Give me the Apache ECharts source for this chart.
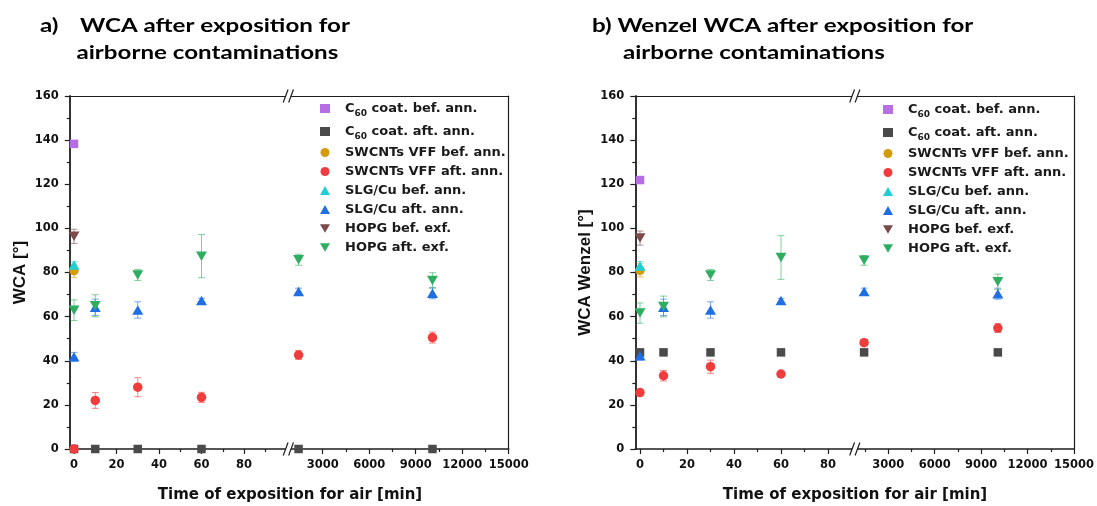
<!DOCTYPE html>
<html>
<head>
<meta charset="utf-8">
<script src="https://cdn.jsdelivr.net/npm/echarts@6/dist/echarts.min.js"></script>
<style>
  html, body { margin: 0; padding: 0; background: #fff; }
  #chart { width: 1097px; height: 506px; }
</style>
</head>
<body>
<div id="chart"></div>
<script>
// Exposure times to air, in minutes (up to one week)
const timesMin = [0, 10, 30, 60, 1440, 10080];

// Legend order is also drawing order
const seriesNames = [
  'C60 coat. bef. ann.', 'C60 coat. aft. ann.',
  'SWCNTs VFF bef. ann.', 'SWCNTs VFF aft. ann.',
  'SLG/Cu bef. ann.', 'SLG/Cu aft. ann.',
  'HOPG bef. exf.', 'HOPG aft. exf.'
];

// Tick labels of the broken time axis
const shortTicks = [0, 20, 40, 60, 80];
const shortMinorTicks = [10, 30, 50, 70, 90];
const longTicks = [3000, 6000, 9000, 12000, 15000];
const longMinorTicks = [1500, 4500, 7500, 10500, 13500];
const wcaTicks = [0, 20, 40, 60, 80, 100, 120, 140, 160];

// a) WCA [°] (null = not measured), with error bars
const wcaC60Bef      = [138.3, null, null, null, null, null];
const wcaC60BefErr   = [0, null, null, null, null, null];
const wcaC60Aft      = [0, 0, 0, 0, 0, 0];
const wcaC60AftErr   = [0, 0, 0, 0, 0, 0];
const wcaSwBef       = [80.8, null, null, null, null, null];
const wcaSwBefErr    = [3, null, null, null, null, null];
const wcaSwAft       = [0, 22, 28, 23.4, 42.6, 50.5];
const wcaSwAftErr    = [0, 3.6, 4.3, 2.3, 2, 2.5];
const wcaSlgBef      = [83.4, null, null, null, null, null];
const wcaSlgBefErr   = [1.5, null, null, null, null, null];
const wcaSlgAft      = [41.8, 64.2, 63, 67.3, 71.4, 70.6];
const wcaSlgAftErr   = [2, 3.7, 3.7, 1, 1.5, 2.5];
const wcaHopgBef     = [96.4, null, null, null, null, null];
const wcaHopgBefErr  = [3.2, null, null, null, null, null];
const wcaHopgAft     = [62.9, 64.9, 78.9, 87.4, 85.8, 76.4];
const wcaHopgAftErr  = [4.7, 5, 2.5, 9.8, 2.5, 3.5];

// b) Wenzel WCA [°]
const wenC60Bef      = [121.9, null, null, null, null, null];
const wenC60BefErr   = [0, null, null, null, null, null];
const wenC60Aft      = [43.8, 43.8, 43.8, 43.8, 43.8, 43.8];
const wenC60AftErr   = [0, 0, 0, 0, 0, 0];
const wenSwBef       = [81, null, null, null, null, null];
const wenSwBefErr    = [3, null, null, null, null, null];
const wenSwAft       = [25.6, 33.2, 37.3, 34, 48.2, 54.8];
const wenSwAftErr    = [1, 2.4, 3, 1, 1.5, 2];
const wenSlgBef      = [83, null, null, null, null, null];
const wenSlgBefErr   = [2, null, null, null, null, null];
const wenSlgAft      = [42.3, 64.2, 63, 67.3, 71.4, 70.4];
const wenSlgAftErr   = [2, 3.7, 3.7, 1, 1.5, 2.5];
const wenHopgBef     = [95.6, null, null, null, null, null];
const wenHopgBefErr  = [3.2, null, null, null, null, null];
const wenHopgAft     = [61.6, 64.6, 78.9, 86.8, 85.5, 75.8];
const wenHopgAftErr  = [4.6, 4.7, 2.5, 9.9, 2.2, 3.5];

const panelValues = [
  [wcaC60Bef, wcaC60Aft, wcaSwBef, wcaSwAft, wcaSlgBef, wcaSlgAft, wcaHopgBef, wcaHopgAft],
  [wenC60Bef, wenC60Aft, wenSwBef, wenSwAft, wenSlgBef, wenSlgAft, wenHopgBef, wenHopgAft]
];
const panelErrors = [
  [wcaC60BefErr, wcaC60AftErr, wcaSwBefErr, wcaSwAftErr, wcaSlgBefErr, wcaSlgAftErr, wcaHopgBefErr, wcaHopgAftErr],
  [wenC60BefErr, wenC60AftErr, wenSwBefErr, wenSwAftErr, wenSlgBefErr, wenSlgAftErr, wenHopgBefErr, wenHopgAftErr]
];

// Marker styles per series
const colors  = ['#b56fe3', '#4a4a4a', '#d49b0b', '#f03c3c', '#1fcfd4', '#1f6fe3', '#7b4a4a', '#2fae62'];
const symbols = ['rect', 'rect', 'circle', 'circle', 'triangle', 'triangle', 'triangle', 'triangle'];
const sizes   = [8.5, 8.5, 9.5, 9.5, [11, 9.5], [11, 9.5], [11, 9.5], [11, 9.5]];
const rotates = [0, 0, 0, 0, 0, 0, 180, 180];
const downTriangleIcon = 'path://M0,0L11,0L5.5,9.5Z';

// Layout of the two panels; each time axis is broken into a short and a long segment
const plotTop = 96, plotHeight = 353;
const panels = [
  { shortLeft: 69.75, shortWidth: 216.75, shortMax: 100, longLeft: 290.2, longWidth: 218.5,
    yName: 'WCA [°]', yNameGap: 41, xTitleX: 290, legendLeft: 320 },
  { shortLeft: 635.3, shortWidth: 218.55, shortMax: 91, longLeft: 855.75, longWidth: 218.55,
    yName: 'WCA Wenzel [°]', yNameGap: 41, xTitleX: 855, legendLeft: 883 }
];
const shortMin = -2, longMin = 900, longMax = 15000;

const axisColor = '#1e1e1e';
const labelFont = { fontFamily: 'DejaVu Sans', fontWeight: 'bold', fontSize: 11.5, color: '#111' };

function rgba(hex, a) {
  const n = parseInt(hex.slice(1), 16);
  return 'rgba(' + (n >> 16) + ',' + ((n >> 8) & 255) + ',' + (n & 255) + ',' + a + ')';
}

const grids = [], xAxes = [], yAxes = [], scatterSeries = [], errorSeries = [];

panels.forEach((p, pi) => {
  const segs = [
    { left: p.shortLeft, width: p.shortWidth, min: shortMin, max: p.shortMax,
      ticks: shortTicks, minor: shortMinorTicks, inRange: t => t <= p.shortMax, short: true },
    { left: p.longLeft, width: p.longWidth, min: longMin, max: longMax,
      ticks: longTicks, minor: longMinorTicks, inRange: t => t >= longMin, short: false }
  ];
  segs.forEach(seg => {
    const g = grids.length;
    grids.push({ left: seg.left, top: plotTop, width: seg.width, height: plotHeight, containLabel: false });
    // bottom axis: line, major ticks, labels
    xAxes.push({
      type: 'value', gridIndex: g, position: 'bottom', min: seg.min, max: seg.max,
      axisLine: { show: true, onZero: false, lineStyle: { color: axisColor, width: 1.5 } },
      axisTick: { show: true, length: 5, customValues: seg.ticks, lineStyle: { color: axisColor, width: 1.2 } },
      axisLabel: Object.assign({ show: true, margin: 10, customValues: seg.ticks, formatter: v => String(v) }, labelFont),
      splitLine: { show: false }
    });
    // bottom axis: minor ticks
    xAxes.push({
      type: 'value', gridIndex: g, position: 'bottom', min: seg.min, max: seg.max,
      axisLine: { show: false, onZero: false },
      axisTick: { show: true, length: 3, customValues: seg.minor, lineStyle: { color: axisColor, width: 1.2 } },
      axisLabel: { show: false }, splitLine: { show: false }
    });
    // top frame line
    xAxes.push({
      type: 'value', gridIndex: g, position: 'top', min: seg.min, max: seg.max,
      axisLine: { show: true, onZero: false, lineStyle: { color: axisColor, width: 1.2 } },
      axisTick: { show: false }, axisLabel: { show: false }, splitLine: { show: false }
    });
    if (seg.short) {
      yAxes.push({
        type: 'value', gridIndex: g, position: 'left', min: 0, max: 160, interval: 20,
        name: p.yName, nameLocation: 'middle', nameGap: p.yNameGap, nameRotate: 90,
        nameTextStyle: { fontFamily: 'Liberation Sans', fontWeight: 'bold', fontSize: 17, color: '#111' },
        axisLine: { show: true, onZero: false, lineStyle: { color: '#333', width: 2 } },
        axisTick: { show: true, length: 5, lineStyle: { color: axisColor, width: 1.2 } },
        minorTick: { show: true, splitNumber: 2, length: 3, lineStyle: { color: axisColor, width: 1.2 } },
        axisLabel: Object.assign({ margin: 11, customValues: wcaTicks }, labelFont),
        splitLine: { show: false }, minorSplitLine: { show: false }
      });
    } else {
      yAxes.push({
        type: 'value', gridIndex: g, position: 'right', min: 0, max: 160,
        axisLine: { show: true, onZero: false, lineStyle: { color: axisColor, width: 1.2 } },
        axisTick: { show: false }, axisLabel: { show: false }, splitLine: { show: false }
      });
    }

    seriesNames.forEach((name, si) => {
      const vals = panelValues[pi][si], errs = panelErrors[pi][si];
      const pts = [], bars = [];
      timesMin.forEach((t, ti) => {
        if (vals[ti] == null || !seg.inRange(t)) return;
        pts.push([t, vals[ti]]);
        if (errs[ti]) bars.push([t, vals[ti], errs[ti]]);
      });
      if (pts.length) {
        scatterSeries.push({
          type: 'scatter', name, xAxisIndex: 3 * g, yAxisIndex: g, data: pts,
          symbol: symbols[si], symbolSize: sizes[si], symbolRotate: rotates[si],
          itemStyle: { color: colors[si], opacity: 1 }, z: 3, silent: true, animation: false
        });
      }
      if (bars.length) {
        const stroke = rgba(colors[si], 0.6);
        errorSeries.push({
          type: 'custom', name, xAxisIndex: 3 * g, yAxisIndex: g, data: bars, z: 2,
          silent: true, animation: false, encode: { x: 0, y: 1 },
          renderItem: (params, api) => {
            const x = api.value(0), y = api.value(1), e = api.value(2);
            const hi = api.coord([x, y + e]), lo = api.coord([x, y - e]);
            const cap = 3.5, style = { stroke, lineWidth: 1 };
            return { type: 'group', children: [
              { type: 'line', shape: { x1: hi[0], y1: hi[1], x2: lo[0], y2: lo[1] }, style },
              { type: 'line', shape: { x1: hi[0] - cap, y1: hi[1], x2: hi[0] + cap, y2: hi[1] }, style },
              { type: 'line', shape: { x1: lo[0] - cap, y1: lo[1], x2: lo[0] + cap, y2: lo[1] }, style }
            ] };
          }
        });
      }
    });
  });
});

// "//" break symbols on the bottom and top frame lines
function breakMarks(cx, cy) {
  const dx = 2.4, dy = 6.5, sep = 2.7;
  return [
    { type: 'polygon', z: 10, shape: { points: [[cx - sep - dx, cy + dy], [cx - sep + dx, cy - dy], [cx + sep + dx, cy - dy], [cx + sep - dx, cy + dy]] },
      style: { fill: '#fff' } },
    { type: 'line', z: 11, shape: { x1: cx - sep - dx, y1: cy + dy, x2: cx - sep + dx, y2: cy - dy }, style: { stroke: axisColor, lineWidth: 1.2 } },
    { type: 'line', z: 11, shape: { x1: cx + sep - dx, y1: cy + dy, x2: cx + sep + dx, y2: cy - dy }, style: { stroke: axisColor, lineWidth: 1.2 } }
  ];
}

const titleFont = { fontFamily: 'Lato', fontWeight: 'bold', fontSize: 18, fill: '#000', verticalAlign: 'middle' };
const titleScale = 1.34;
function titleText(x, y, text) {
  return { type: 'text', x, y, scaleX: titleScale, style: Object.assign({ text }, titleFont) };
}

const graphics = [
  titleText(40, 26, 'a)'),
  titleText(80, 26, 'WCA after exposition for'),
  titleText(76.5, 53, 'airborne contaminations'),
  titleText(592, 26, 'b) Wenzel WCA after exposition for'),
  titleText(623, 53, 'airborne contaminations')
];
panels.forEach(p => {
  graphics.push({ type: 'text', x: p.xTitleX, y: 495,
    style: { text: 'Time of exposition for air [min]', fontFamily: 'DejaVu Sans', fontWeight: 'bold', fontSize: 15,
             fill: '#111', align: 'center', verticalAlign: 'middle' } });
  const cx = (p.shortLeft + p.shortWidth + p.longLeft) / 2;
  graphics.push(...breakMarks(cx, plotTop + plotHeight), ...breakMarks(cx, plotTop));
});

// Legend: marker box, then a spacer before the label; "60" as subscript
const legendData = seriesNames.map((name, i) => rotates[i] ? { name, icon: downTriangleIcon } : name);
const legendBase = {
  data: legendData, orient: 'vertical', itemWidth: 10, itemHeight: 9, itemGap: 4,
  selectedMode: false, padding: 0,
  formatter: name => '{gap|}' + name.replace('C60', 'C{sub|60}'),
  textStyle: {
    fontFamily: 'DejaVu Sans', fontWeight: 'bold', fontSize: 13, color: '#1a1a1a', lineHeight: 15,
    rich: {
      gap: { width: 10 },
      sub: { fontFamily: 'DejaVu Sans', fontWeight: 'bold', fontSize: 9, color: '#1a1a1a',
             verticalAlign: 'bottom', lineHeight: 19 }
    }
  }
};

const chart = echarts.init(document.getElementById('chart'), null, { renderer: 'canvas' });
chart.setOption({
  backgroundColor: '#fff',
  animation: false,
  grid: grids,
  xAxis: xAxes,
  yAxis: yAxes,
  legend: panels.map((p, i) => Object.assign({ left: p.legendLeft, top: 99 + i }, legendBase)),
  graphic: graphics,
  series: scatterSeries.concat(errorSeries)
});
</script>
</body>
</html>
